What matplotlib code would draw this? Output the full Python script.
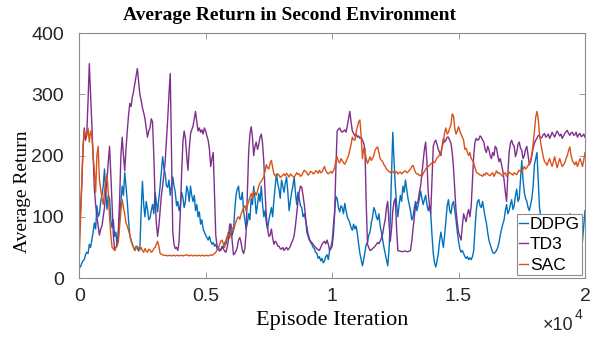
import numpy as np
import matplotlib
matplotlib.use('Agg')
import matplotlib.pyplot as plt
from matplotlib.ticker import FuncFormatter

# episode grid (every 50 episodes)
episodes = np.arange(0, 20001, 50)

# one row = 500 episodes
ddpg = [20, 18, 24, 28, 30, 38, 42, 40, 55, 50,
        62, 75, 90, 80, 118, 100, 105, 125, 135, 150,
        178, 140, 112, 135, 130, 95, 82, 95, 68, 75,
        52, 70, 105, 125, 150, 135, 172, 150, 125, 95,
        70, 62, 55, 50, 45, 52, 48, 44, 50, 110,
        158, 120, 100, 125, 112, 95, 98, 110, 120, 105,
        140, 125, 108, 130, 150, 175, 198, 180, 170, 150,
        148, 160, 135, 150, 165, 150, 140, 118, 125, 110,
        118, 140, 132, 115, 125, 150, 143, 125, 150, 135,
        125, 135, 110, 120, 100, 108, 88, 95, 80, 75,
        70, 66, 62, 68, 60, 55, 58, 52, 55, 48,
        50, 45, 46, 52, 50, 58, 55, 65, 75, 70,
        85, 70, 78, 110, 135, 145, 150, 130, 128, 140,
        110, 95, 80, 90, 105, 95, 130, 120, 150, 130,
        105, 120, 138, 125, 150, 120, 100, 110, 90, 80,
        95, 105, 115, 100, 128, 150, 170, 155, 145, 130,
        160, 150, 140, 155, 165, 140, 110, 125, 140, 150,
        165, 140, 120, 140, 130, 118, 115, 100, 105, 95,
        84, 72, 65, 58, 55, 50, 48, 42, 40, 32,
        35, 28, 32, 25, 28, 35, 38, 30, 45, 50,
        60, 85, 110, 133, 130, 115, 108, 118, 115, 105,
        122, 110, 100, 95, 90, 82, 78, 88, 80, 85,
        72, 55, 40, 30, 20, 30, 42, 55, 58, 70,
        75, 90, 100, 115, 110, 100, 95, 105, 85, 75,
        62, 50, 40, 30, 20, 45, 95, 170, 238, 190,
        150, 120, 100, 120, 135, 125, 150, 140, 160, 145,
        130, 120, 110, 95, 100, 115, 125, 110, 118, 130,
        142, 130, 120, 128, 135, 120, 110, 118, 105, 70,
        40, 25, 18, 28, 40, 60, 75, 62, 50, 70,
        95, 118, 128, 110, 105, 120, 125, 110, 95, 75,
        60, 48, 42, 45, 40, 35, 32, 35, 30, 33,
        30, 35, 45, 80, 110, 125, 128, 118, 115, 125,
        112, 100, 90, 75, 62, 55, 48, 42, 40, 42,
        45, 50, 58, 70, 80, 88, 95, 110, 120, 105,
        110, 120, 128, 112, 118, 135, 145, 125, 130, 160,
        192, 160, 140, 130, 125, 115, 110, 120, 130, 150,
        185, 195, 205, 160, 115, 100, 90, 80, 70, 85,
        95, 88, 80, 70, 60, 72, 85, 95, 100, 88,
        75, 82, 90, 78, 65, 72, 80, 95, 105, 88,
        70, 80, 90, 82, 75, 88, 100, 80, 60, 85,
        110]

td3 = [62, 110, 150, 210, 245, 225, 235, 290, 350, 300,
       250, 200, 145, 120, 100, 85, 70, 80, 85, 100,
       115, 140, 160, 190, 215, 170, 120, 70, 45, 50,
       55, 80, 130, 200, 230, 200, 175, 210, 240, 265,
       285, 280, 295, 305, 318, 330, 342, 320, 300, 290,
       278, 270, 260, 245, 230, 240, 245, 260, 255, 200,
       130, 90, 68, 85, 110, 135, 150, 170, 190, 225,
       260, 300, 334, 200, 75, 55, 48, 50, 45, 60,
       110, 170, 222, 240, 228, 200, 176, 210, 235, 242,
       248, 260, 272, 255, 240, 245, 238, 242, 235, 245,
       240, 232, 225, 210, 182, 195, 205, 140, 70, 52,
       48, 44, 46, 50, 48, 44, 42, 50, 62, 88,
       88, 60, 38, 40, 44, 50, 62, 66, 58, 45,
       40, 48, 75, 140, 205, 235, 247, 230, 200, 215,
       222, 210, 218, 230, 235, 220, 190, 140, 100, 80,
       68, 70, 80, 65, 55, 60, 58, 52, 52, 48,
       47, 50, 45, 48, 50, 46, 48, 52, 58, 62,
       70, 85, 105, 125, 140, 150, 148, 135, 120, 100,
       75, 68, 62, 60, 58, 55, 52, 50, 48, 46,
       45, 50, 55, 58, 60, 56, 62, 55, 45, 48,
       52, 70, 105, 180, 240, 243, 245, 240, 238, 240,
       242, 238, 248, 260, 272, 255, 240, 236, 232, 235,
       230, 232, 228, 230, 225, 220, 210, 120, 55, 50,
       45, 46, 48, 50, 52, 55, 58, 56, 60, 65,
       72, 85, 95, 115, 125, 90, 60, 80, 110, 125,
       130, 80, 45, 44, 44, 43, 43, 44, 44, 43,
       43, 44, 45, 60, 80, 100, 118, 122, 125, 140,
       150, 170, 190, 210, 222, 190, 140, 118, 105, 160,
       215, 222, 225, 218, 210, 205, 200, 215, 228, 222,
       225, 230, 230, 225, 220, 205, 180, 145, 110, 90,
       75, 68, 62, 85, 105, 98, 92, 105, 112, 100,
       118, 160, 200, 222, 228, 225, 226, 232, 230, 225,
       222, 210, 205, 215, 210, 200, 195, 205, 200, 215,
       212, 200, 190, 195, 185, 175, 160, 140, 125, 170,
       205, 220, 225, 218, 215, 198, 205, 218, 222, 212,
       208, 195, 200, 210, 215, 200, 185, 190, 200, 212,
       220, 225, 228, 233, 232, 228, 230, 234, 236, 230,
       232, 235, 228, 232, 238, 234, 230, 236, 240, 236,
       232, 235, 228, 232, 236, 239, 241, 236, 233, 237,
       238, 233, 234, 238, 230, 234, 236, 231, 232, 235,
       230]

sac = [30, 90, 150, 215, 240, 235, 232, 245, 222, 240,
       232, 200, 175, 140, 200, 215, 160, 145, 130, 120,
       140, 160, 170, 140, 100, 70, 50, 48, 45, 50,
       52, 60, 85, 110, 128, 115, 105, 90, 85, 78,
       70, 60, 55, 50, 45, 50, 52, 48, 46, 50,
       45, 42, 48, 44, 42, 47, 46, 42, 44, 48,
       50, 55, 60, 52, 40, 39, 38, 37, 37, 37,
       36, 37, 37, 36, 37, 37, 36, 37, 37, 36,
       37, 37, 36, 37, 37, 38, 37, 36, 37, 37,
       36, 37, 37, 36, 37, 37, 36, 37, 37, 36,
       37, 37, 36, 37, 38, 37, 38, 40, 42, 46,
       48, 55, 60, 62, 56, 50, 62, 68, 72, 65,
       75, 82, 78, 85, 92, 98, 100, 96, 104, 110,
       115, 118, 110, 118, 125, 132, 138, 130, 142, 140,
       135, 142, 150, 155, 158, 162, 165, 175, 185, 180,
       178, 188, 192, 180, 170, 167, 165, 170, 168, 164,
       166, 168, 170, 167, 171, 168, 165, 170, 168, 166,
       164, 168, 172, 169, 170, 166, 168, 172, 176, 174,
       172, 168, 170, 174, 173, 170, 171, 175, 174, 171,
       176, 172, 173, 178, 182, 175, 172, 170, 172, 174,
       171, 175, 180, 192, 198, 190, 188, 195, 192, 188,
       186, 190, 195, 200, 209, 218, 230, 226, 225, 238,
       247, 255, 258, 230, 195, 212, 205, 195, 187, 192,
       198, 192, 195, 200, 209, 212, 214, 205, 195, 192,
       190, 185, 182, 178, 176, 174, 172, 175, 174, 171,
       172, 174, 170, 172, 173, 170, 172, 174, 175, 172,
       173, 176, 178, 182, 184, 178, 172, 170, 170, 167,
       168, 166, 170, 174, 178, 180, 182, 184, 186, 188,
       190, 188, 192, 196, 198, 202, 205, 215, 220, 238,
       245, 235, 238, 245, 250, 268, 265, 245, 235, 240,
       247, 240, 235, 230, 225, 210, 212, 205, 200, 205,
       195, 192, 188, 180, 173, 171, 170, 168, 168, 166,
       170, 168, 172, 170, 168, 167, 170, 172, 166, 170,
       175, 171, 172, 170, 168, 166, 170, 172, 166, 168,
       173, 171, 170, 168, 172, 170, 169, 173, 176, 174,
       172, 178, 182, 178, 180, 184, 186, 192, 203, 220,
       240, 262, 272, 260, 235, 220, 209, 198, 190, 188,
       184, 190, 195, 188, 182, 190, 198, 188, 180, 188,
       195, 188, 182, 185, 188, 195, 200, 208, 214, 200,
       192, 188, 185, 190, 182, 188, 195, 190, 182, 192,
       205]

fig = plt.figure(figsize=(6, 3.37), dpi=100)
ax = fig.add_axes([0.132, 0.175, 0.843, 0.727])

ax.plot(episodes, ddpg, color='#0072BD', lw=1.0, label='DDPG')
ax.plot(episodes, td3, color='#7E2F8E', lw=1.0, label='TD3')
ax.plot(episodes, sac, color='#D95319', lw=1.0, label='SAC')

ax.set_xlim(0, 20000)
ax.set_ylim(0, 400)
ax.set_xticks([0, 5000, 10000, 15000, 20000])
ax.set_yticks([0, 100, 200, 300, 400])
ax.xaxis.set_major_formatter(FuncFormatter(lambda v, p: '%g' % (v / 1e4)))

for s in ax.spines.values():
    s.set_color('#8c8c8c')
    s.set_linewidth(0.8)
ax.tick_params(direction='in', top=True, right=True, length=4, width=0.6,
               color='#8c8c8c', labelcolor='#262626', labelsize=14)
ax.tick_params(axis='y', pad=11)
ax.tick_params(axis='x', pad=7)
for lab in ax.get_xticklabels() + ax.get_yticklabels():
    lab.set_family('Liberation Sans')

fig.text(0.482, 0.955, 'Average Return in Second Environment', family='Liberation Serif',
         fontweight='bold', fontsize=14, ha='center', va='center')
fig.text(0.553, 0.05, 'Episode Iteration', family='Liberation Serif', fontsize=16,
         ha='center', va='center')
fig.text(0.037, 0.43, 'Average Return', family='Liberation Serif', fontsize=14,
         rotation=90, ha='center', va='center')

fig.text(0.955, 0.008, '\u00d710', family='Liberation Sans', fontsize=13,
         color='#262626', ha='right', va='bottom')
fig.text(0.957, 0.045, '4', family='Liberation Sans', fontsize=10,
         color='#262626', ha='left', va='bottom')

leg = ax.legend(loc='lower right', prop={'family': 'Liberation Sans', 'size': 12.5},
                handlelength=0.5, handletextpad=0.1, borderpad=0.15,
                labelspacing=0.3, borderaxespad=0.15, fancybox=False,
                framealpha=1.0, edgecolor='#8c8c8c')
leg.get_frame().set_linewidth(0.8)

fig.savefig('out.png', dpi=100)
